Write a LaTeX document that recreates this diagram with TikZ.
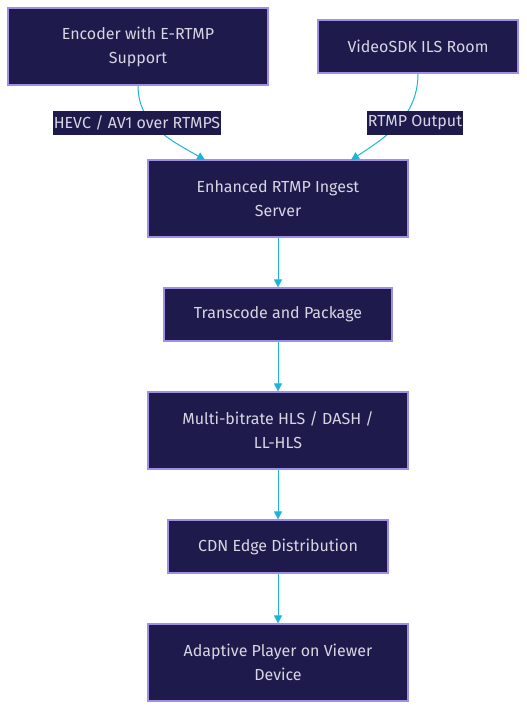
\documentclass[tikz,border=0pt]{standalone}
\usepackage{fontspec}
\setmainfont{Fira Sans}
\usepackage{tikz}
\usetikzlibrary{arrows.meta}

\definecolor{boxfill}{HTML}{1E1A4B}
\definecolor{boxline}{HTML}{9F8FE6}
\definecolor{boxtext}{HTML}{D6D6E2}
\definecolor{flowline}{HTML}{1DB4D8}

\begin{document}
\begin{tikzpicture}[x=0.75pt,y=0.75pt,
		box/.style={draw=boxline,line width=0.9pt,fill=boxfill,text=boxtext,align=center,
			font=\fontsize{12}{18}\selectfont,inner sep=0pt},
		lbl/.style={fill=boxfill,text=boxtext,inner xsep=0.5pt,inner ysep=0pt,
			minimum height=18pt,font=\fontsize{12}{18}\selectfont},
		flow/.style={draw=flowline,line width=0.75pt,-{Triangle[width=6pt,length=6pt]}}]
		\useasboundingbox (0,0) rectangle (527,-710);

		% sources
		\node [box,minimum width=195pt,minimum height=57.75pt] (enc) at (138,-46.5) {Encoder with E-RTMP\\Support};
		\node [box,minimum width=150pt,minimum height=39.75pt] (sdk) at (418,-46.5) {VideoSDK ILS Room};

		% pipeline
		\node [box,minimum width=195pt,minimum height=57.75pt] (ingest) at (278,-198.5) {Enhanced RTMP Ingest\\Server};
		\node [box,minimum width=171pt,minimum height=39.75pt] (trans) at (278,-314.5) {Transcode and Package};
		\node [box,minimum width=195pt,minimum height=57.75pt] (multi) at (278,-430.5) {Multi-bitrate HLS / DASH /\\LL-HLS};
		\node [box,minimum width=165pt,minimum height=39.75pt] (cdn) at (278,-546.5) {CDN Edge Distribution};
		\node [box,minimum width=195pt,minimum height=57.75pt] (player) at (278,-662.5) {Adaptive Player on Viewer\\Device};

		% arrow ends on ingest
		\coordinate (ingL) at (205,-160);
		\coordinate (ingR) at (351,-160);

		% incoming streams
		\draw [flow] (enc.south) to [out=-90,in=150] (ingL);
		\draw [flow] (sdk.south) to [out=-90,in=33] (ingR);
		\node [lbl] (hevc) at (137,-123) {HEVC / AV1 over RTMPS};
		\node [lbl] (rtmp) at (415,-123) {RTMP Output};

		% chain
		\draw [flow] (ingest) -- (trans);
		\draw [flow] (trans) -- (multi);
		\draw [flow] (multi) -- (cdn);
		\draw [flow] (cdn) -- (player);
	\end{tikzpicture}
\end{document}
